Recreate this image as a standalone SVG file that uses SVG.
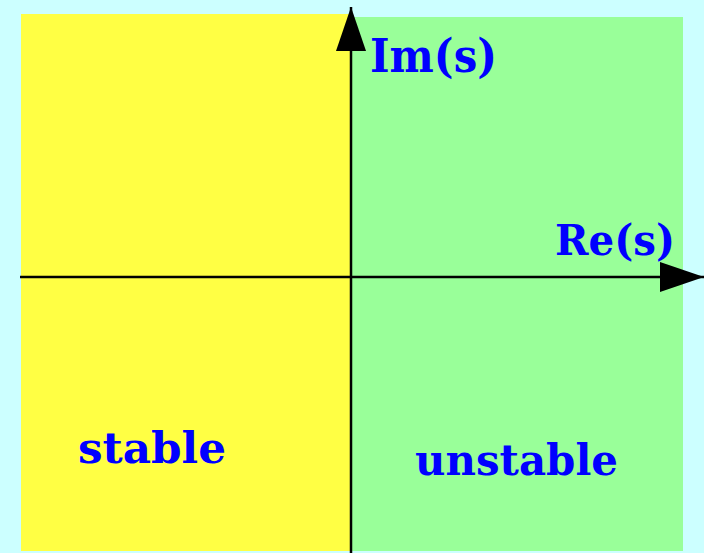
<svg xmlns="http://www.w3.org/2000/svg" width="704" height="553" viewBox="0 0 704 553">
<style>
.lbl{font-family:"DejaVu Serif","Liberation Serif",serif;font-weight:bold;fill:#0000ff;}
.ax{stroke:#000;stroke-width:2.5;fill:none;}
</style>
<defs>
<marker id="ah" markerUnits="userSpaceOnUse" markerWidth="44" markerHeight="30" refX="44" refY="15" orient="auto">
<path d="M0,0 L44,15 L0,30 Z" fill="#000"/>
</marker>
</defs>
<rect width="704" height="553" fill="#ccffff"/>
<g id="stable-region">
<rect x="21" y="14" width="330" height="537" fill="#ffff44"/>
<text class="lbl" x="78" y="463" font-size="42" textLength="148" lengthAdjust="spacingAndGlyphs">stable</text>
</g>
<g id="unstable-region">
<rect x="351" y="17" width="332" height="534" fill="#99ff99"/>
<text class="lbl" x="415" y="475" font-size="42" textLength="203" lengthAdjust="spacingAndGlyphs">unstable</text>
</g>
<g id="connectors">
<line class="ax" x1="20" y1="277" x2="704" y2="277" marker-end="url(#ah)"/>
<line class="ax" x1="351" y1="553" x2="351" y2="7" marker-end="url(#ah)"/>
</g>
<g id="labels">
<text class="lbl" x="370" y="72" font-size="46" textLength="127" lengthAdjust="spacingAndGlyphs">Im(s)</text>
<text class="lbl" x="555" y="255" font-size="42" textLength="120" lengthAdjust="spacingAndGlyphs">Re(s)</text>
</g>
</svg>
